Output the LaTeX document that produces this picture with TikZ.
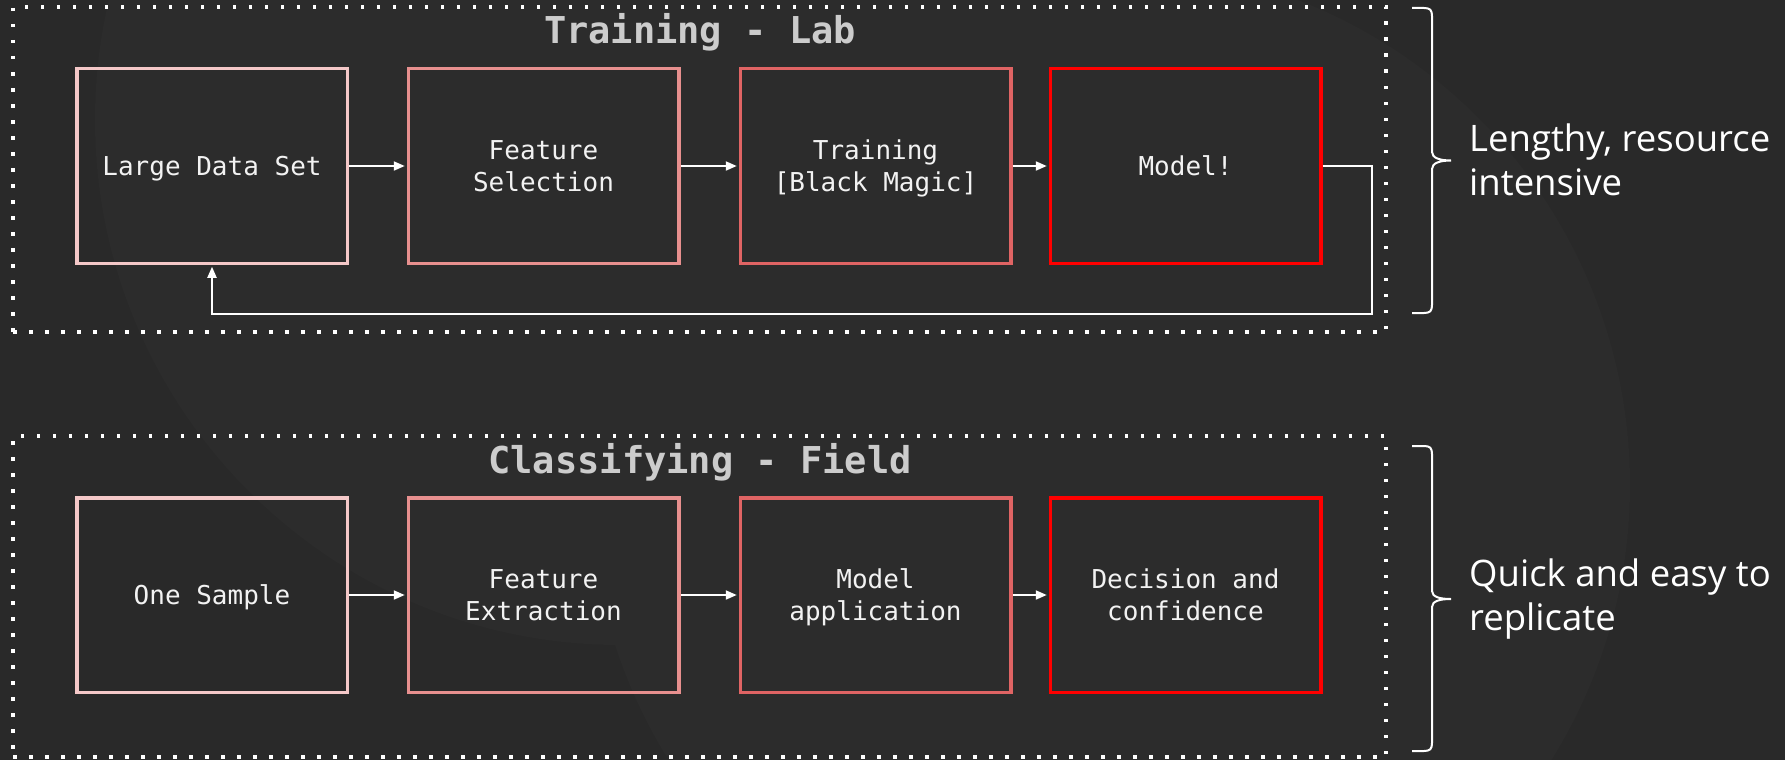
\documentclass[tikz,border=0pt]{standalone}
\usepackage{fontspec}
\setmainfont{Open Sans}
\setmonofont{DejaVu Sans Mono}
\usetikzlibrary{arrows.meta}
\definecolor{bgdark}{HTML}{292929}
\definecolor{bglight}{HTML}{2C2C2C}
\definecolor{cone}{HTML}{F4C8C8}
\definecolor{ctwo}{HTML}{E8908F}
\definecolor{cthree}{HTML}{E06464}
\definecolor{cfour}{HTML}{FF0000}
\definecolor{titlegray}{HTML}{CCCCCC}
\definecolor{boxtext}{HTML}{F2F2F2}
\begin{document}
\begin{tikzpicture}[x=1pt,y=-1pt,
  stagebox/.style={draw, line width=3.5pt, minimum width=270.5pt, minimum height=194.5pt,
    inner sep=0pt, align=center, text=boxtext, text depth=0pt,
    font=\ttfamily\fontsize{26}{32}\selectfont},
  flow/.style={draw=white, line width=2pt, shorten >=1.75pt,
    -{Triangle[length=11pt,width=9pt]}},
  zone/.style={draw=white, line width=3.5pt, dash pattern=on 3.5pt off 12.5pt,
    minimum width=1373pt, inner sep=0pt},
  zonetitle/.style={text=titlegray, font=\ttfamily\bfseries\fontsize{37}{44}\selectfont,
    anchor=base, inner sep=0pt},
  sidetext/.style={text=white, font=\fontsize{36.5}{44}\selectfont, align=left,
    anchor=base west, inner sep=0pt},
  bracepath/.style={draw=white, line width=2pt}]
\useasboundingbox (0,0) rectangle (1785,760);
% background
\fill[bgdark] (0,0) rectangle (1785,760);
\begin{scope}
  \clip (0,0) rectangle (1785,760);
  \fill[bglight] (620,120) circle (525);
  \fill[bglight] (1110,485) circle (520);
\end{scope}

% zones
\node[zone, minimum height=325pt] (lab) at (699.5,169.5) {};
\node[zone, minimum height=321pt] (field) at (699.5,596.5) {};
\node[zonetitle] (labtitle) at (700,44) {Training - Lab};
\node[zonetitle] (fieldtitle) at (700,473) {Classifying - Field};

% training row
\node[stagebox, draw=cone]   (d1) at (212,166)    {Large Data Set};
\node[stagebox, draw=ctwo]   (f1) at (543.5,166)  {Feature\\Selection};
\node[stagebox, draw=cthree] (t1) at (875.5,166)  {Training\\{[Black Magic]}};
\node[stagebox, draw=cfour]  (m1) at (1185.5,166) {Model!};
\draw[flow] (d1.east) -- (f1.west);
\draw[flow] (f1.east) -- (t1.west);
\draw[flow] (t1.east) -- (m1.west);
\coordinate (fb) at (1372,314);
\draw[flow] (m1.east) -| (fb) -| (d1.south);

% classifying row
\node[stagebox, draw=cone]   (s2) at (212,595)    {One Sample};
\node[stagebox, draw=ctwo]   (f2) at (543.5,595)  {Feature\\Extraction};
\node[stagebox, draw=cthree] (a2) at (875.5,595)  {Model\\application};
\node[stagebox, draw=cfour]  (c2) at (1185.5,595) {Decision and\\confidence};
\draw[flow] (s2.east) -- (f2.west);
\draw[flow] (f2.east) -- (a2.west);
\draw[flow] (a2.east) -- (c2.west);

% braces
\draw[bracepath] (1412,8) -- (1424,8) .. controls (1430,8) and (1432,10) .. (1432,16)
  -- (1432,152) .. controls (1432,158) and (1440,160.5) .. (1451,160.5)
  .. controls (1440,160.5) and (1432,163) .. (1432,169)
  -- (1432,305) .. controls (1432,311) and (1430,313) .. (1424,313) -- (1412,313);
\draw[bracepath] (1412,446) -- (1424,446) .. controls (1430,446) and (1432,448) .. (1432,454)
  -- (1432,591) .. controls (1432,597) and (1440,599) .. (1451,599)
  .. controls (1440,599) and (1432,601) .. (1432,607)
  -- (1432,743) .. controls (1432,749) and (1430,751) .. (1424,751) -- (1412,751);

% notes (anchor at the baseline of the last line)
\node[sidetext] (labnote) at (1469,195) {Lengthy, resource\\intensive};
\node[sidetext] (fieldnote) at (1469,630) {Quick and easy to\\replicate};
\end{tikzpicture}
\end{document}
